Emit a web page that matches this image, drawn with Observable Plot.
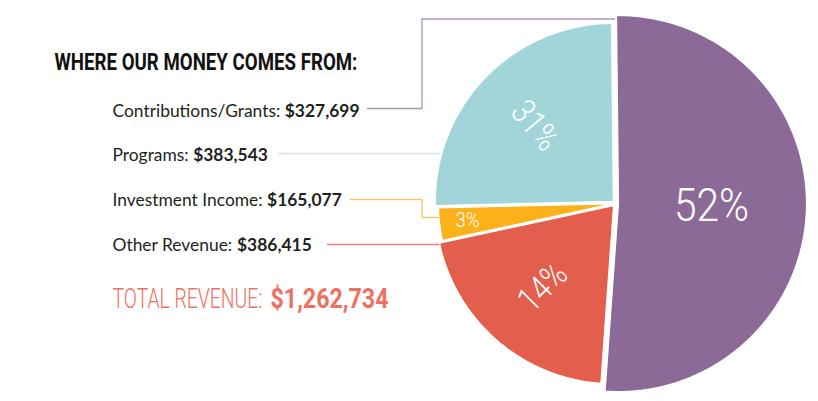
<!DOCTYPE html>
<html><head><meta charset="utf-8">
<script src="https://cdn.jsdelivr.net/npm/d3@7"></script>
<script src="https://cdn.jsdelivr.net/npm/@observablehq/plot@0.6"></script>
<style>
html,body{margin:0;padding:0;background:#fff;}
#chart svg{display:block;}
</style></head><body><div id="chart"></div>
<script>
// ---------- DATA ----------
const sliceNames = ["Contributions/Grants", "Other Revenue", "Investment Income", "Programs"]; // clockwise from 12 o'clock
const sliceShares = [51.3, 20.5, 3.0, 25.2];          // shares as drawn in the picture
const slicePctLabels = ["52%", "14%", "3%", "31%"];  // labels as printed on the slices
const legendNames = ["Contributions/Grants", "Programs", "Investment Income", "Other Revenue"];
const legendAmounts = ["$327,699", "$383,543", "$165,077", "$386,415"];
const titleText = "WHERE OUR MONEY COMES FROM:";
const totalLabel = "TOTAL REVENUE:";
const totalAmount = "$1,262,734";

// ---------- STYLE / LAYOUT ----------
const W = 818, H = 401;
const colors = {"Contributions/Grants": "#8b6a97", "Other Revenue": "#e35e4c", "Investment Income": "#fbb21a", "Programs": "#a2d5da"};
const lineColors = {"Contributions/Grants": "#a996b9", "Other Revenue": "#f07b78", "Investment Income": "#f8c56e", "Programs": "#c9e8e8"};
const cx = 615, cy = 203, startDeg = -0.6, explode = 3;
const radius = {"Contributions/Grants": 188, "Other Revenue": 178, "Investment Income": 174, "Programs": 178};
const labelDist = {"Contributions/Grants": 93, "Other Revenue": 108, "Investment Income": 146, "Programs": 109};
const labelRotate = {"Contributions/Grants": 0, "Other Revenue": -45, "Investment Income": 0, "Programs": 50};
const labelSize = {"Contributions/Grants": 46, "Other Revenue": 35, "Investment Income": 20, "Programs": 35};
const labelWeight = {"Contributions/Grants": 300, "Other Revenue": 300, "Investment Income": 300, "Programs": 300};
const cond = "Roboto, 'Noto Sans', sans-serif";
const body = "Lato, 'Noto Sans', sans-serif";
// horizontal compression to mimic the condensed typefaces of the original (target widths in px)
const condensedWidth = {"52%": 75, "31%": 53, "14%": 53, "3%": 24, [titleText]: 303, [totalLabel]: 150, [totalAmount]: 118};

const ctx = document.createElement("canvas").getContext("2d");
function measure(text, font) { ctx.font = font; return ctx.measureText(text).width; }
function fitSize(text, weight, family, target) { return 20 * target / measure(text, `${weight} 20px ${family}`); }

// ---------- PIE GEOMETRY ----------
const total = d3.sum(sliceShares);
let acc = startDeg;
const slices = sliceNames.map((name, i) => {
  const a0 = acc, a1 = acc + sliceShares[i] / total * 360; acc = a1;
  const mid = (a0 + a1) / 2 * Math.PI / 180;
  const ox = cx + explode * Math.sin(mid), oy = cy - explode * Math.cos(mid);
  const r = radius[name];
  const pts = [[ox, oy]];
  const n = Math.max(4, Math.ceil((a1 - a0) * 2));
  for (let k = 0; k <= n; k++) {
    const a = (a0 + (a1 - a0) * k / n) * Math.PI / 180;
    pts.push([ox + r * Math.sin(a), oy - r * Math.cos(a)]);
  }
  pts.push([ox, oy]);
  const d = labelDist[name];
  return {name, pts, label: slicePctLabels[i], lx: ox + d * Math.sin(mid), ly: oy - d * Math.cos(mid)};
});
const sliceRows = slices.flatMap(s => s.pts.map(([x, y]) => ({name: s.name, x, y, fill: colors[s.name]})));

// ---------- LEGEND TEXT ----------
const legendX = 112;
const legendBase = [116, 160.5, 205.5, 250.5];
const legendSize = fitSize(legendNames[0] + ": " + legendAmounts[0], "normal", body, 247);
const legendLabelRows = legendNames.map((n, i) => ({text: n + ": ", x: legendX, y: legendBase[i]}));
const legendAmountRows = legendNames.map((n, i) => ({text: legendAmounts[i], x: legendX + measure(n + ": ", `normal ${legendSize}px ${body}`), y: legendBase[i]}));

// connectors (from the end of each legend line to its slice)
const connectors = [
  {name: "Contributions/Grants", pts: [[367, 108], [421.5, 108], [421.5, 18.5], [614, 18.5]]},
  {name: "Programs", pts: [[277, 153], [440, 153]]},
  {name: "Investment Income", pts: [[350, 199], [421.5, 199], [421.5, 217], [444, 217]]},
  {name: "Other Revenue", pts: [[327, 244], [444, 244]]}
];
const connRows = connectors.flatMap(c => c.pts.map(([x, y]) => ({name: c.name, x, y, stroke: lineColors[c.name]})));

const sliceLabelMarks = slices.map(s => Plot.text([s], {
  x: "lx", y: "ly", text: "label", fill: "white", fontFamily: cond,
  fontWeight: labelWeight[s.name], fontSize: labelSize[s.name], rotate: labelRotate[s.name], textAnchor: "middle"
}));

const chart = Plot.plot({
  width: W, height: H, margin: 0,
  x: {domain: [0, W], range: [0, W], axis: null},
  y: {domain: [0, H], range: [0, H], axis: null},
  style: {background: "#fff", overflow: "visible"},
  marks: [
    Plot.line(connRows, {x: "x", y: "y", z: "name", stroke: "stroke", strokeWidth: 1.3}),
    Plot.line(sliceRows, {x: "x", y: "y", z: "name", fill: "fill", stroke: "white", strokeWidth: 1.2, curve: "linear"}),
    ...sliceLabelMarks,
    Plot.text([titleText], {x: 54, y: 69, text: d => d, textAnchor: "start", lineAnchor: "bottom",
      fontFamily: cond, fontWeight: "bold", fontSize: 24, fill: "#111"}),
    Plot.text(legendLabelRows, {x: "x", y: "y", text: "text", textAnchor: "start", lineAnchor: "bottom",
      fontFamily: body, fontSize: legendSize, fill: "#231f20"}),
    Plot.text(legendAmountRows, {x: "x", y: "y", text: "text", textAnchor: "start", lineAnchor: "bottom",
      fontFamily: body, fontWeight: "bold", fontSize: legendSize, fill: "#231f20"}),
    Plot.text([totalLabel], {x: 112, y: 307.5, text: d => d, textAnchor: "start", lineAnchor: "bottom",
      fontFamily: cond, fontWeight: 300, fontSize: 28, fill: "#ef6f60"}),
    Plot.text([totalAmount], {x: 270, y: 307.5, text: d => d, textAnchor: "start", lineAnchor: "bottom",
      fontFamily: cond, fontWeight: "bold", fontSize: 28, fill: "#ef6f60"})
  ]
});
document.getElementById("chart").appendChild(chart);

// compress selected texts horizontally around their anchor (the local origin after Plot's transform)
chart.querySelectorAll("text").forEach(t => {
  const s = t.textContent;
  if (!(s in condensedWidth)) return;
  const w = t.getComputedTextLength();
  if (!(w > 0)) return;
  const k = condensedWidth[s] / w;
  const T = t.getAttribute("transform") || "";
  t.setAttribute("transform", `${T} scale(${k.toFixed(4)},1)`);
});
</script></body></html>
